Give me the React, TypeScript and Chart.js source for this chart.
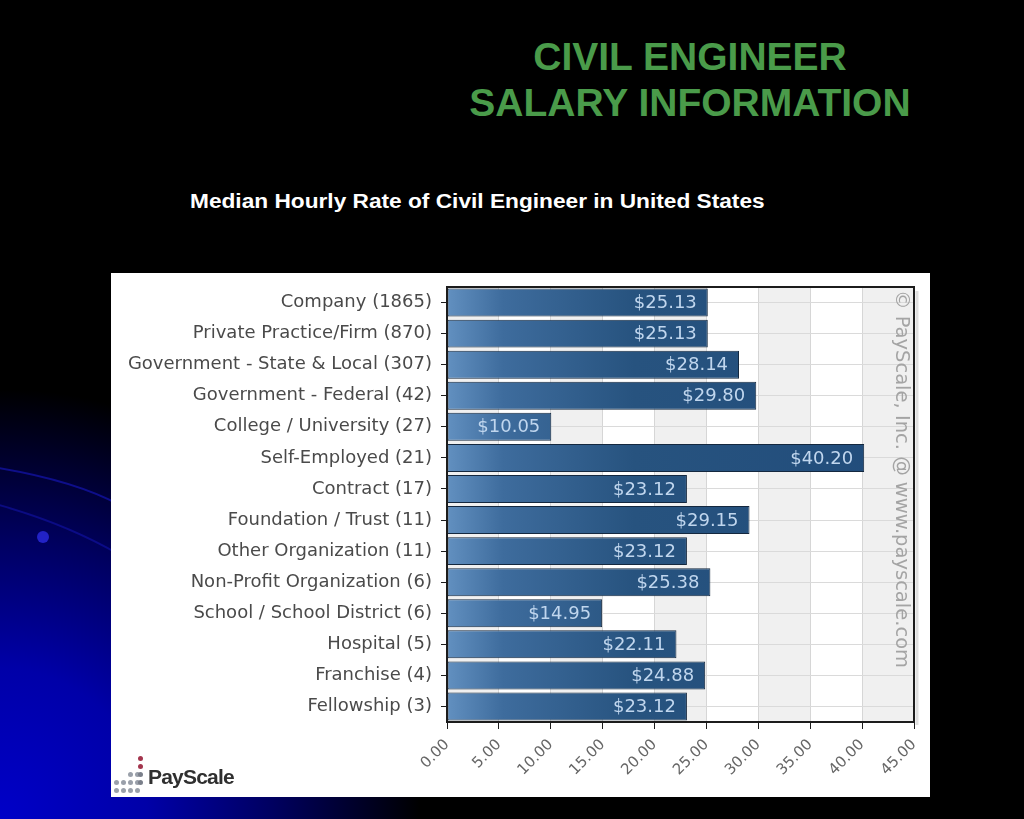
import React, { useEffect, useRef } from "react";
import { Chart, registerables } from "chart.js";

Chart.register(...registerables);

const categories = [
  "Company (1865)",
  "Private Practice/Firm (870)",
  "Government - State & Local (307)",
  "Government - Federal (42)",
  "College / University (27)",
  "Self-Employed (21)",
  "Contract (17)",
  "Foundation / Trust (11)",
  "Other Organization (11)",
  "Non-Profit Organization (6)",
  "School / School District (6)",
  "Hospital (5)",
  "Franchise (4)",
  "Fellowship (3)",
];

const medianHourly = [25.13, 25.13, 28.14, 29.8, 10.05, 40.2, 23.12, 29.15, 23.12, 25.38, 14.95, 22.11, 24.88, 23.12];

const xTickValues = [0, 5, 10, 15, 20, 25, 30, 35, 40, 45];

const titleLines = ["CIVIL ENGINEER", "SALARY INFORMATION"];
const subtitle = "Median Hourly Rate of Civil Engineer in United States";
const watermark = "\u00A9 PayScale, Inc. @ www.payscale.com";

const bandsPlugin = {
  id: "bands",
  beforeDraw(chart: any) {
    const { ctx, chartArea } = chart;
    const xs = chart.scales.x;
    ctx.save();
    for (let i = 0; i < xTickValues.length - 1; i++) {
      if (i % 2 === 0) {
        const a = xs.getPixelForValue(xTickValues[i]);
        const b = xs.getPixelForValue(xTickValues[i + 1]);
        ctx.fillStyle = "#f0f0f0";
        ctx.fillRect(a, chartArea.top, b - a, chartArea.bottom - chartArea.top);
      }
    }
    ctx.restore();
  },
};

const labelsPlugin = {
  id: "valueLabels",
  afterDatasetsDraw(chart: any) {
    const { ctx } = chart;
    const meta = chart.getDatasetMeta(0);
    ctx.save();
    ctx.font = "18px 'DejaVu Sans'";
    ctx.fillStyle = "#c0d6ee";
    ctx.textAlign = "right";
    ctx.textBaseline = "middle";
    meta.data.forEach((bar: any, i: number) => {
      ctx.fillText("$" + medianHourly[i].toFixed(2), bar.x - 11, bar.y + 1);
    });
    ctx.restore();
  },
  afterDraw(chart: any) {
    const { ctx, chartArea } = chart;
    ctx.save();
    ctx.strokeStyle = "rgba(0,0,0,0.12)";
    ctx.lineWidth = 3;
    ctx.beginPath();
    ctx.moveTo(chartArea.right + 3, chartArea.top + 4);
    ctx.lineTo(chartArea.right + 3, chartArea.bottom + 3);
    ctx.stroke();
    ctx.strokeStyle = "#1c1c1c";
    ctx.lineWidth = 2;
    ctx.strokeRect(chartArea.left, chartArea.top, chartArea.right - chartArea.left, chartArea.bottom - chartArea.top);
    ctx.translate(chartArea.right - 13, chartArea.top + 3);
    ctx.rotate(Math.PI / 2);
    ctx.font = "19.5px 'DejaVu Sans'";
    ctx.fillStyle = "#a4a4a4";
    ctx.textAlign = "left";
    ctx.textBaseline = "middle";
    ctx.fillText(watermark, 0, 0);
    ctx.restore();
  },
};

function BarChart() {
  const ref = useRef<HTMLCanvasElement | null>(null);
  useEffect(() => {
    const canvas = ref.current!;
    const c2d = canvas.getContext("2d")!;
    const grad = c2d.createLinearGradient(336, 0, 803, 0);
    grad.addColorStop(0, "#6290c0");
    grad.addColorStop(0.12, "#3e6c9d");
    grad.addColorStop(0.4, "#27537f");
    grad.addColorStop(1, "#214c7b");
    const chart = new Chart(canvas, {
      type: "bar",
      data: {
        labels: categories,
        datasets: [
          {
            data: medianHourly,
            backgroundColor: grad,
            borderColor: "#14283f",
            borderWidth: 1,
            borderSkipped: false,
            barPercentage: 0.9,
            categoryPercentage: 1,
          },
        ],
      },
      options: {
        indexAxis: "y",
        animation: false,
        responsive: false,
        layout: { padding: { left: 0, right: 16, top: 14, bottom: 0 } },
        plugins: { legend: { display: false }, tooltip: { enabled: false } },
        scales: {
          x: {
            type: "linear",
            min: 0,
            max: 45,
            afterFit(scale: any) {
              scale.height = 75;
              scale.paddingLeft = 0;
              scale.paddingRight = 0;
            },
            afterBuildTicks(scale: any) {
              scale.ticks = xTickValues.map((v) => ({ value: v }));
            },
            grid: { color: "#d6d6d6", tickColor: "#1c1c1c", tickLength: 7, lineWidth: 1 },
            border: { color: "#1c1c1c", width: 2 },
            ticks: {
              callback: (v: any) => Number(v).toFixed(2),
              minRotation: 45,
              maxRotation: 45,
              color: "#666666",
              font: { family: "'DejaVu Sans'", size: 15 },
              padding: 7,
            },
          },
          y: {
            type: "category",
            offset: true,
            afterFit(scale: any) {
              scale.width = 336;
              scale.paddingTop = 0;
              scale.paddingBottom = 0;
            },
            grid: { color: "#dadada", offset: false, tickColor: "#1c1c1c", tickLength: 6 },
            border: { color: "#1c1c1c", width: 2 },
            ticks: {
              color: "#4a4a4a",
              font: { family: "'DejaVu Sans'", size: 18 },
              padding: 9,
            },
          },
        },
      },
      plugins: [bandsPlugin, labelsPlugin],
    } as any);
    return () => chart.destroy();
  }, []);
  return <canvas ref={ref} width={819} height={524} style={{ display: "block" }} />;
}

function Logo() {
  const dots: React.ReactNode[] = [];
  const grayCols = [114, 121, 128, 135];
  const rows = [772, 780, 788];
  rows.forEach((y, ri) => {
    grayCols.forEach((x, ci) => {
      if (ri === 0 && ci < 2) return;
      dots.push(
        <div key={`g${ri}-${ci}`} style={{ position: "absolute", left: x, top: y, width: 5, height: 5, borderRadius: 3, background: "#9aa0aa" }} />
      );
    });
  });
  [756, 764].forEach((y, i) =>
    dots.push(
      <div key={`r${i}`} style={{ position: "absolute", left: 138, top: y, width: 5, height: 5, borderRadius: 3, background: "#a3354d" }} />
    )
  );
  [772, 780].forEach((y, i) =>
    dots.push(
      <div key={`m${i}`} style={{ position: "absolute", left: 138, top: y, width: 5, height: 5, borderRadius: 3, background: "#7a7f8a" }} />
    )
  );
  return (
    <>
      {dots}
      <div
        style={{
          position: "absolute",
          left: 148,
          top: 765,
          font: "bold 21px 'Liberation Sans', Arial, sans-serif",
          color: "#2f2f2f",
          letterSpacing: -0.8,
        }}
      >
        PayScale
      </div>
    </>
  );
}

export default function App() {
  return (
    <div
      style={{
        position: "fixed",
        left: 0,
        top: 0,
        width: 1024,
        height: 819,
        overflow: "hidden",
        background:
          "radial-gradient(ellipse 420px 430px at 0px 819px, #0000c8 0%, #0000a8 35%, #000060 65%, #000000 100%), #000",
        fontFamily: "'Liberation Sans', Arial, sans-serif",
      }}
    >
      <svg width={1024} height={819} style={{ position: "absolute", left: 0, top: 0 }}>
        <path d="M -20 465 Q 70 478 120 505" stroke="#1a1ad0" strokeWidth={2} fill="none" opacity={0.55} />
        <path d="M -20 500 Q 60 520 120 555" stroke="#1616b8" strokeWidth={2} fill="none" opacity={0.5} />
        <circle cx={43} cy={537} r={6} fill="#2828d8" opacity={0.85} />
      </svg>
      {titleLines.map((t, i) => (
        <div
          key={i}
          style={{
            position: "absolute",
            left: 390,
            width: 600,
            top: 34 + i * 46,
            textAlign: "center",
            color: "#4a9b4a",
            font: "bold 39px 'Liberation Sans', Arial, sans-serif",
            lineHeight: "46px",
          }}
        >
          {t}
        </div>
      ))}
      <div
        style={{
          position: "absolute",
          left: 190,
          top: 189,
          color: "#ffffff",
          font: "bold 20px 'Liberation Sans', Arial, sans-serif",
          lineHeight: "24px",
          whiteSpace: "nowrap",
          transform: "scaleX(1.134)",
          transformOrigin: "0 0",
        }}
      >
        {subtitle}
      </div>
      <div style={{ position: "absolute", left: 111, top: 273, width: 819, height: 524, background: "#ffffff" }}>
        <BarChart />
      </div>
      <Logo />
    </div>
  );
}
